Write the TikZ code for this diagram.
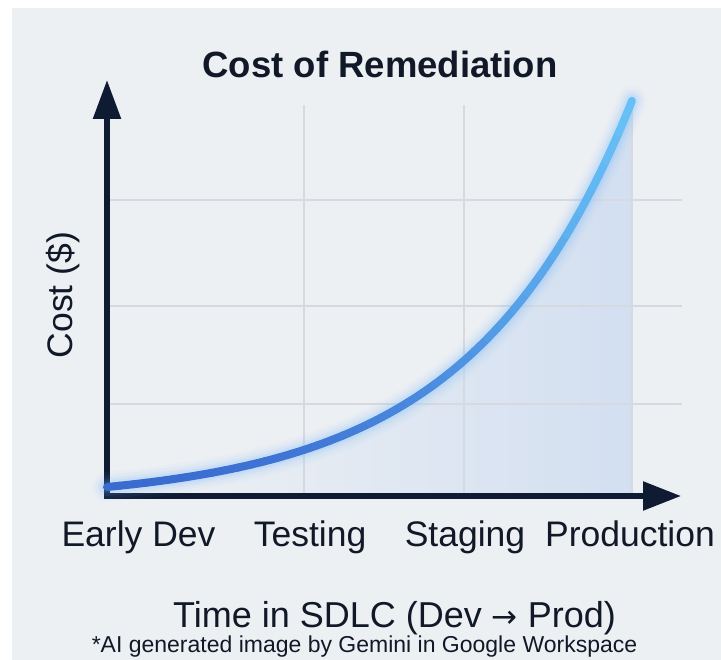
\documentclass[tikz,border=0pt]{standalone}
\usepackage{fontspec}
\setmainfont{Liberation Sans}
\newfontfamily\arrowfont{DejaVu Sans}
\usetikzlibrary{arrows.meta}
\definecolor{bgc}{HTML}{EDF0F3}
\definecolor{gridc}{HTML}{D6DAE0}
\definecolor{axisc}{HTML}{0E1B33}
\definecolor{txtc}{HTML}{111827}
\definecolor{cstart}{HTML}{3A6BD0}
\definecolor{cend}{HTML}{66C0F5}
\definecolor{glowc}{HTML}{6FB8FF}
\definecolor{fillc}{HTML}{C4D6F0}
\pgfdeclarehorizontalshading{areashade}{100bp}{color(0bp)=(bgc); color(30bp)=(bgc); color(100bp)=(fillc)}
\tikzset{
  gridline/.style={draw=gridc, line width=1.2pt},
  axisline/.style={draw=axisc, line width=5.5pt, line join=miter},
  ticklab/.style={text=txtc, font=\fontsize{35.5pt}{40pt}\selectfont, anchor=base, inner sep=0pt},
}
\newcommand{\costf}[1]{502.54-15.54*exp(0.0062*(#1-107))}
\begin{document}
\begin{tikzpicture}[x=1pt,y=-1pt]
\useasboundingbox (0,0) rectangle (721,660);
\fill[white] (0,0) rectangle (721,660);
\fill[bgc] (12,8) rectangle (721,660);
% area under curve
\shade[shading=areashade]
  plot[domain=107:632, samples=80] (\x,{\costf{\x}}) -- (632,494) -- (107,494) -- cycle;
% grid
\foreach \gx in {304,464,632} \draw[gridline] (\gx,105) -- (\gx,494);
\foreach \gy in {200,306,404} \draw[gridline] (107,\gy) -- (682,\gy);
% axes
\coordinate (O) at (107,496);
\coordinate (Ytip) at (107,80);
\coordinate (Xtip) at (681,496);
\draw[axisline, {Triangle[length=39pt,width=27pt]}-{Triangle[length=38pt,width=28pt]}] (Ytip) -- (O) -- (Xtip);
% glow
\foreach \w/\o in {30/0.04, 24/0.06, 18/0.09, 13/0.13}
  \draw[glowc, line width=\w pt, opacity=\o, line cap=round]
    plot[domain=107:632, samples=80] (\x,{\costf{\x}});
% curve with colour gradient
\foreach \i in {0,...,39} {
  \pgfmathsetmacro\xa{107+\i*13.125}
  \pgfmathsetmacro\xb{107+(\i+1)*13.125}
  \pgfmathtruncatemacro\p{100-100*(\i/39)*(\i/39)}
  \draw[line width=8pt, line cap=round, color=cstart!\p!cend]
    plot[domain=\xa:\xb, samples=5] (\x,{\costf{\x}});
}
% labels
\node[text=txtc, font=\fontsize{36.5pt}{40pt}\selectfont\bfseries, anchor=base, inner sep=0pt] (title) at (380,78) {Cost of Remediation};
\node[ticklab] (l1) at (138.5,547) {Early Dev};
\node[ticklab] (l2) at (310,547) {Testing};
\node[ticklab] (l3) at (465,547) {Staging};
\node[ticklab] (l4) at (630,547) {Production};
\node[ticklab, rotate=90] (ylab) at (72,295) {Cost (\$)};
\node[ticklab, font=\fontsize{36pt}{40pt}\selectfont] (xlab) at (394.5,627) {Time in SDLC (Dev {\arrowfont\fontsize{31pt}{36pt}\selectfont →} Prod)};
\node[text=txtc, font=\fontsize{23pt}{26pt}\selectfont, anchor=base, inner sep=0pt] (note) at (364.5,652) {*AI generated image by Gemini in Google Workspace};
\end{tikzpicture}
\end{document}
